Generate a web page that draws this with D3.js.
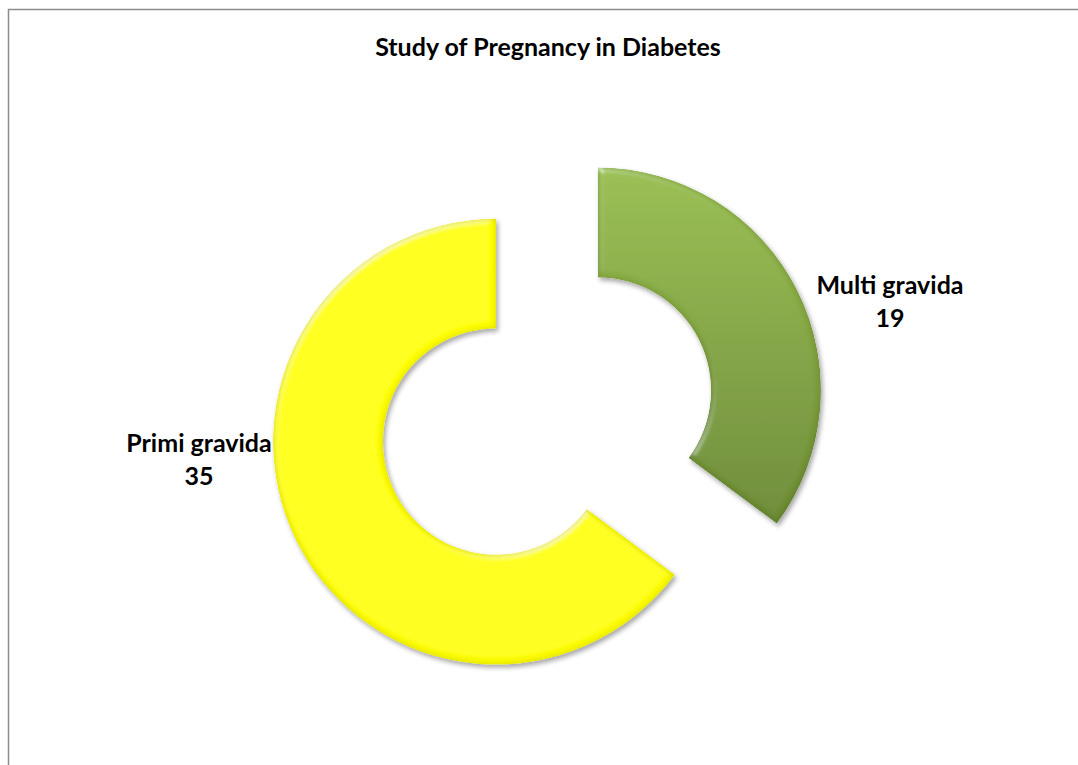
<!DOCTYPE html>
<html>
<head>
<meta charset="utf-8">
<script src="https://cdn.jsdelivr.net/npm/d3@7"></script>
<style>
  html, body { margin: 0; padding: 0; background: #fff; }
  svg text { font-family: Lato, "Open Sans", sans-serif; font-weight: bold; fill: #000; }
</style>
</head>
<body>
<div id="chart"></div>
<script>
// data
var categories = ["Multi gravida", "Primi gravida"];
var values = [19, 35];
var sliceColors = [["#98bd4e", "#6b8a32"], ["#ffff00", "#fcfc00"]];
var chartTitle = "Study of Pregnancy in Diabetes";

var width = 1078, height = 765;
var center = { x: 547, y: 416 };
var outerR = 223, innerR = 113, explode = 57;

var svg = d3.select("#chart").append("svg")
    .attr("width", width)
    .attr("height", height);

var defs = svg.append("defs");

// bevel-ish filter: drop shadow + edge highlight + edge darkening
var f = defs.append("filter").attr("id", "bevel")
    .attr("x", "-10%").attr("y", "-10%").attr("width", "120%").attr("height", "120%");
f.append("feGaussianBlur").attr("in", "SourceAlpha").attr("stdDeviation", 3).attr("result", "blur");
f.append("feSpecularLighting").attr("in", "blur").attr("surfaceScale", 3)
    .attr("specularConstant", 0.7).attr("specularExponent", 22)
    .attr("lighting-color", "#ffffff").attr("result", "spec")
    .append("feDistantLight").attr("azimuth", 235).attr("elevation", 30);
f.append("feComposite").attr("in", "spec").attr("in2", "SourceAlpha").attr("operator", "in").attr("result", "specIn");
// inner dark rim
f.append("feComposite").attr("in", "SourceAlpha").attr("in2", "blur").attr("operator", "arithmetic")
    .attr("k1", 0).attr("k2", 1).attr("k3", -1).attr("k4", 0).attr("result", "rim");
f.append("feColorMatrix").attr("in", "rim").attr("type", "matrix")
    .attr("values", "0 0 0 0 0  0 0 0 0 0  0 0 0 0 0  0 0 0 0.35 0").attr("result", "rimDark");
f.append("feComposite").attr("in", "SourceGraphic").attr("in2", "specIn")
    .attr("operator", "arithmetic").attr("k1", 0).attr("k2", 1).attr("k3", 0.5).attr("k4", 0).attr("result", "lit");
f.append("feComposite").attr("in", "rimDark").attr("in2", "lit").attr("operator", "over").attr("result", "litRim");
f.append("feComposite").attr("in", "litRim").attr("in2", "SourceAlpha").attr("operator", "in").attr("result", "body");
f.append("feGaussianBlur").attr("in", "SourceAlpha").attr("stdDeviation", 2.5).attr("result", "sblur");
f.append("feOffset").attr("in", "sblur").attr("dx", 2).attr("dy", 3).attr("result", "soff");
f.append("feComponentTransfer").attr("in", "soff").attr("result", "shadow")
    .append("feFuncA").attr("type", "linear").attr("slope", 0.35);
var merge = f.append("feMerge");
merge.append("feMergeNode").attr("in", "shadow");
merge.append("feMergeNode").attr("in", "body");

sliceColors.forEach(function (c, i) {
    var g = defs.append("linearGradient").attr("id", "grad" + i)
        .attr("gradientUnits", "objectBoundingBox")
        .attr("x1", 0).attr("y1", 0).attr("x2", 0).attr("y2", 1);
    g.append("stop").attr("offset", "0%").attr("stop-color", c[0]);
    g.append("stop").attr("offset", "100%").attr("stop-color", c[1]);
});

// frame
svg.append("rect")
    .attr("x", 8.5).attr("y", 9.5)
    .attr("width", width + 20).attr("height", height + 20)
    .attr("fill", "none").attr("stroke", "#8c8c8c").attr("stroke-width", 1.5);

svg.append("text")
    .attr("x", 548).attr("y", 56)
    .attr("text-anchor", "middle")
    .style("font-size", "25px")
    .text(chartTitle);

var pie = d3.pie().sort(null).value(function (d) { return d; });
var arcs = pie(values);
var arc = d3.arc().innerRadius(innerR).outerRadius(outerR);

var slices = svg.append("g").attr("transform", "translate(" + center.x + "," + center.y + ")");

slices.selectAll("path")
    .data(arcs)
    .enter().append("path")
    .attr("d", arc)
    .attr("fill", function (d, i) { return "url(#grad" + i + ")"; })
    .attr("filter", "url(#bevel)")
    .attr("transform", function (d) {
        var a = (d.startAngle + d.endAngle) / 2;
        return "translate(" + (Math.sin(a) * explode) + "," + (-Math.cos(a) * explode) + ")";
    });

// labels
var labelPos = [{ x: 890, y: 294 }, { x: 199, y: 452 }];
arcs.forEach(function (d, i) {
    var t = svg.append("text")
        .attr("x", labelPos[i].x).attr("y", labelPos[i].y)
        .attr("text-anchor", "middle")
        .style("font-size", "25px");
    t.append("tspan").attr("x", labelPos[i].x).text(categories[i]);
    t.append("tspan").attr("x", labelPos[i].x).attr("dy", 33).text(values[i]);
});
</script>
</body>
</html>
